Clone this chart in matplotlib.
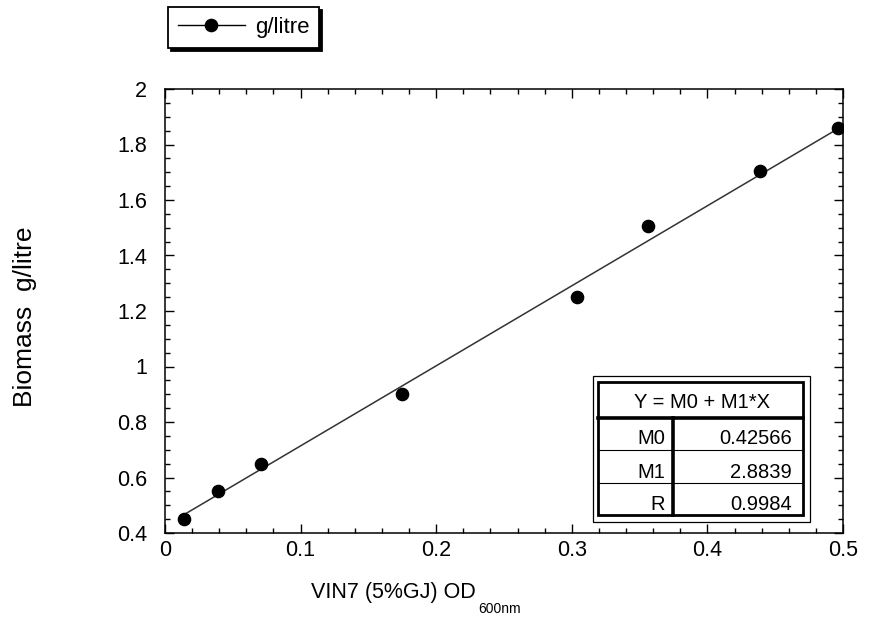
import matplotlib
matplotlib.use("Agg")
import matplotlib.pyplot as plt
from matplotlib.lines import Line2D
from matplotlib.patches import Rectangle
from matplotlib.ticker import MultipleLocator, FuncFormatter

# ---- data ----
x_od = [0.014, 0.039, 0.071, 0.175, 0.304, 0.356, 0.439, 0.496]
biomass = [0.45, 0.55, 0.65, 0.90, 1.25, 1.505, 1.705, 1.86]
series_label = "g/litre"
M0 = 0.42566
M1 = 2.8839
R = 0.9984
table_header = "Y = M0 + M1*X"
table_labels = ["M0", "M1", "R"]
table_values = ["0.42566", "2.8839", "0.9984"]
x_label_main = "VIN7 (5%GJ) OD"
x_label_sub = "600nm"
y_label = "Biomass  g/litre"

plt.rcParams['font.family'] = ['Liberation Sans', 'DejaVu Sans']

W, H = 871, 632
fig = plt.figure(figsize=(W / 100, H / 100), dpi=100)

def fx(px):
    return px / W

def fy(py):
    return 1 - py / H

L, Rt, T, B = 165, 843, 89, 533
ax = fig.add_axes([fx(L), fy(B), fx(Rt) - fx(L), fy(T) - fy(B)])

ax.set_xlim(0, 0.5)
ax.set_ylim(0.4, 2.0)

# fit line
xfit = [min(x_od), max(x_od)]
yfit = [M0 + M1 * v for v in xfit]
ax.plot(xfit, yfit, color='#333333', lw=1.1, zorder=2)
ax.plot(x_od, biomass, linestyle='none', marker='o', ms=8.8,
        color='black', zorder=3)

ax.xaxis.set_major_locator(MultipleLocator(0.1))
ax.xaxis.set_minor_locator(MultipleLocator(0.02))
ax.yaxis.set_major_locator(MultipleLocator(0.2))
ax.yaxis.set_minor_locator(MultipleLocator(0.05))
fmt = FuncFormatter(lambda v, p: "%g" % round(v, 3))
ax.xaxis.set_major_formatter(fmt)
ax.yaxis.set_major_formatter(fmt)

ax.tick_params(which='both', direction='in', top=True, right=True,
               width=1.0, colors='black')
ax.tick_params(which='major', length=6.5)
ax.tick_params(which='minor', length=3.8)
ax.tick_params(axis='x', which='major', labelsize=15.5, pad=5)
ax.tick_params(axis='y', which='major', labelsize=15.5, pad=13)
for s in ax.spines.values():
    s.set_linewidth(1.1)

# axis labels
fig.text(fx(311), fy(598), x_label_main, ha='left', va='baseline', fontsize=15.5)
fig.text(fx(478), fy(613), x_label_sub, ha='left', va='baseline', fontsize=10)
fig.text(fx(25), fy(317), y_label, rotation=90, ha='center', va='center',
         fontsize=19)

# legend
handle = Line2D([], [], color='black', lw=1.0, marker='o', ms=8.8)
leg = ax.legend([handle], [series_label], loc='upper left',
                bbox_to_anchor=(fx(168), fy(7)), bbox_transform=fig.transFigure,
                borderaxespad=0, fancybox=False, edgecolor='black',
                framealpha=1, fontsize=16, handlelength=3.0,
                handletextpad=0.45, borderpad=0.45, numpoints=1,
                shadow={'facecolor': 'black', 'edgecolor': 'black', 'alpha': 1})
leg.get_frame().set_linewidth(1.3)

# regression table
def rect(x0, y0, x1, y1, lw, fill=False, z=5):
    r = Rectangle((fx(x0), fy(y1)), fx(x1) - fx(x0), fy(y0) - fy(y1),
                  transform=fig.transFigure, facecolor='white' if fill else 'none',
                  edgecolor='black', lw=lw, zorder=z)
    fig.add_artist(r)

def hline(y, x0, x1, lw):
    fig.add_artist(Line2D([fx(x0), fx(x1)], [fy(y), fy(y)],
                          transform=fig.transFigure, color='black', lw=lw, zorder=6))

def vline(x, y0, y1, lw):
    fig.add_artist(Line2D([fx(x), fx(x)], [fy(y0), fy(y1)],
                          transform=fig.transFigure, color='black', lw=lw, zorder=6))

rect(593, 376, 810, 522, 0.9, fill=True, z=5)
rect(598, 382, 803, 515, 2.0, fill=False, z=6)
hline(418, 598, 803, 2.6)
hline(450, 598, 803, 0.8)
hline(483, 598, 803, 0.8)
vline(673, 418, 515, 2.6)

fig.text(fx(702), fy(407.5), table_header, ha='center', va='baseline',
         fontsize=14.5, zorder=7)
row_baselines = [443.5, 477.5, 510.5]
for lab, val, yb in zip(table_labels, table_values, row_baselines):
    fig.text(fx(665), fy(yb), lab, ha='right', va='baseline', fontsize=14.5, zorder=7)
    fig.text(fx(792), fy(yb), val, ha='right', va='baseline', fontsize=14.5, zorder=7)

fig.savefig("out.png", dpi=100, facecolor='white')
